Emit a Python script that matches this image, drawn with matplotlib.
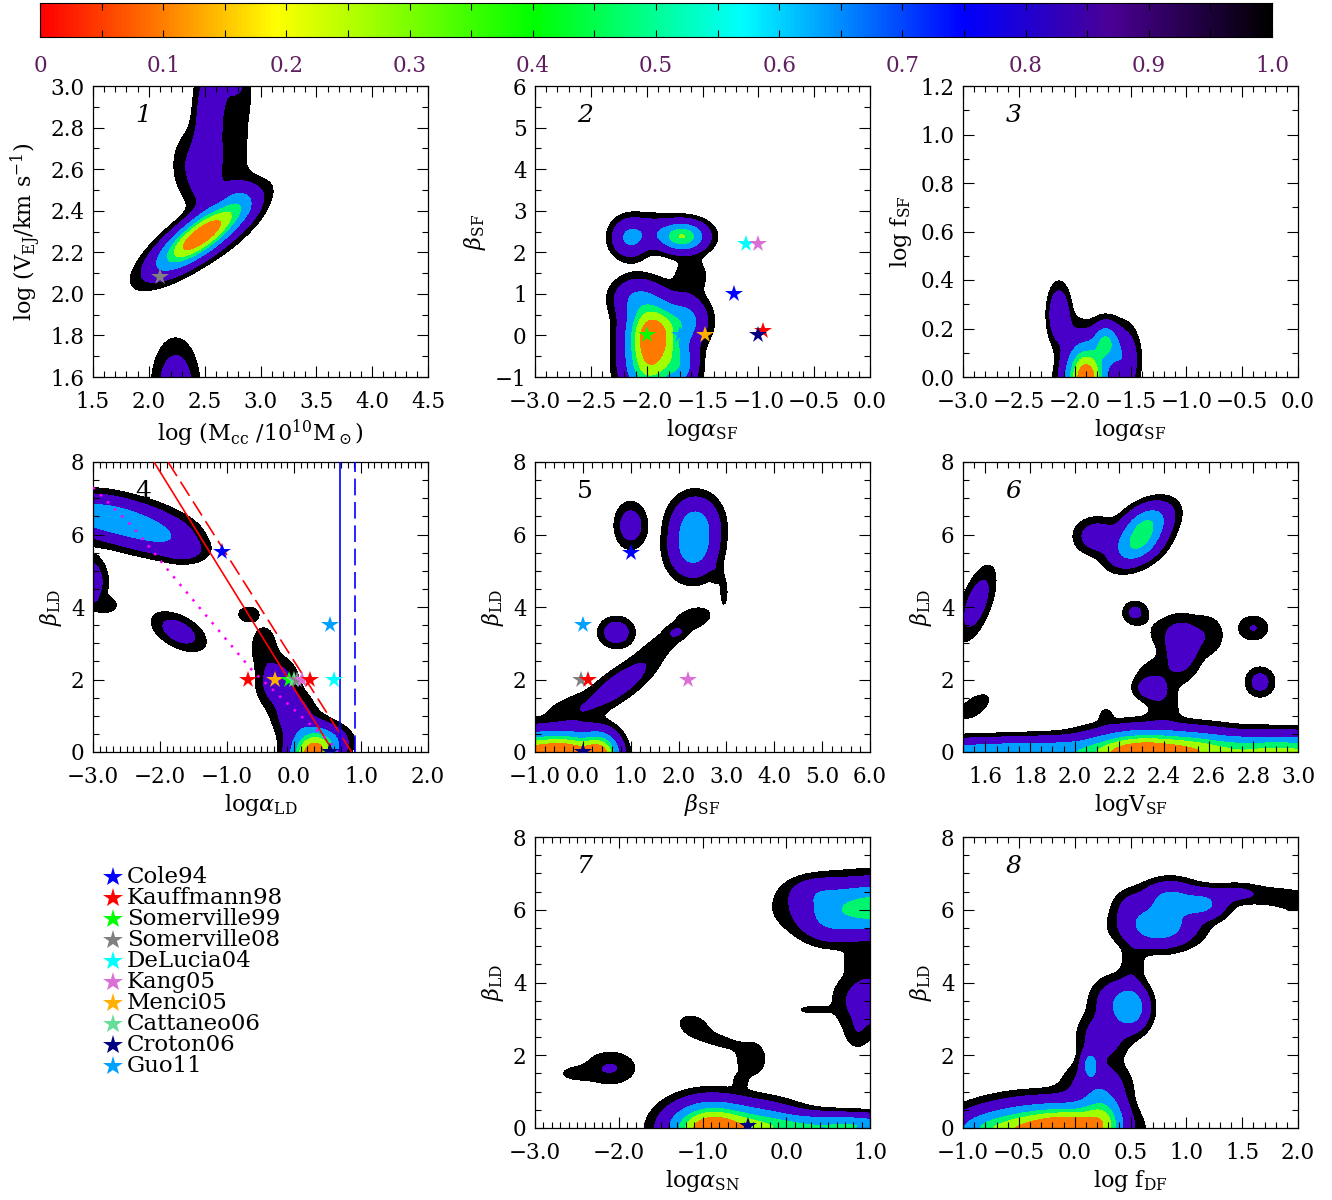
import numpy as np
import matplotlib
matplotlib.use("Agg")
import matplotlib.pyplot as plt
from matplotlib.colors import LinearSegmentedColormap
from matplotlib.ticker import MultipleLocator, FuncFormatter, FixedLocator

plt.rcParams['font.family'] = ['DejaVu Serif']
plt.rcParams['mathtext.fontset'] = 'dejavuserif'

# colour scale on top
cb_pos = [0.0, 0.1, 0.19, 0.4, 0.57, 0.75, 0.87, 1.0]
cb_cols = ['#ff0000', '#ff8000', '#ffff00', '#00ff00', '#00ffff', '#0000ff', '#4b0096', '#000000']
cb_ticks = [0.0, 0.1, 0.2, 0.3, 0.4, 0.5, 0.6, 0.7, 0.8, 0.9, 1.0]
cb_labels = ['0', '0.1', '0.2', '0.3', '0.4', '0.5', '0.6', '0.7', '0.8', '0.9', '1.0']

# contour bands (outer -> inner)
band_levels = [0.03, 0.08, 0.25, 0.45, 0.6, 0.8, 50]
band_colors = ['#000000', '#4800c8', '#00a0ff', '#00f56e', '#a0ff00', '#ff7800']

# models
model_names = ['Cole94', 'Kauffmann98', 'Somerville99', 'Somerville08', 'DeLucia04',
               'Kang05', 'Menci05', 'Cattaneo06', 'Croton06', 'Guo11']
model_colors = ['#0000ff', '#ff0000', '#00ff00', '#808080', '#00ffff',
                '#da70d6', '#ffb000', '#66dd99', '#000080', '#00a0ff']

# posterior blobs per panel: (x0, y0, sx, sy, rho, amp)
blobs1 = [(2.47, 2.28, 0.24, 0.10, 0.80, 1.0),
          (2.49, 2.60, 0.10, 0.13, 0.0, 0.15),
          (2.53, 2.86, 0.07, 0.13, 0.0, 0.14),
          (2.80, 2.45, 0.10, 0.06, 0.0, 0.12),
          (2.74, 2.72, 0.15, 0.28, 0.0, 0.045),
          (2.68, 3.00, 0.15, 0.10, 0.0, 0.05),
          (2.78, 3.02, 0.04, 0.03, 0.0, 0.10),
          (2.30, 2.62, 0.08, 0.10, 0.0, 0.04),
          (2.24, 1.55, 0.12, 0.13, 0.0, 0.16)]
blobs2 = [(-1.68, 2.38, 0.13, 0.22, 0.0, 0.6),
          (-2.15, 2.35, 0.10, 0.28, 0.0, 0.28),
          (-1.95, 2.50, 0.12, 0.25, 0.0, 0.12),
          (-1.60, 1.45, 0.10, 0.30, 0.0, 0.065),
          (-1.95, 0.00, 0.14, 0.50, 0.0, 1.0),
          (-1.98, -0.85, 0.14, 0.40, 0.0, 0.45),
          (-1.65, 0.35, 0.12, 0.35, 0.0, 0.3),
          (-2.10, 0.90, 0.13, 0.30, 0.0, 0.2),
          (-1.70, -0.70, 0.10, 0.40, 0.0, 0.3)]
blobs3 = [(-1.90, -0.01, 0.11, 0.09, 0.0, 1.0),
          (-1.72, 0.14, 0.07, 0.05, 0.0, 0.45),
          (-1.56, 0.07, 0.08, 0.08, 0.0, 0.22),
          (-2.14, 0.26, 0.06, 0.07, 0.0, 0.2),
          (-2.05, 0.19, 0.08, 0.05, 0.0, 0.04)]
blobs4 = [(-3.10, 6.62, 0.33, 0.33, 0.0, 0.18),
          (-2.80, 6.48, 0.33, 0.33, 0.0, 0.17),
          (-2.50, 6.32, 0.33, 0.33, 0.0, 0.17),
          (-2.20, 6.14, 0.33, 0.33, 0.0, 0.17),
          (-1.90, 5.90, 0.30, 0.30, 0.0, 0.15),
          (-1.62, 5.55, 0.22, 0.22, 0.0, 0.1),
          (-3.08, 4.70, 0.16, 0.40, 0.0, 0.2),
          (-2.80, 4.05, 0.12, 0.15, 0.0, 0.06),
          (-1.72, 3.32, 0.24, 0.32, -0.5, 0.13),
          (0.28, -0.15, 0.20, 0.45, 0.0, 1.0),
          (0.50, 0.30, 0.20, 0.25, 0.0, 0.2),
          (0.00, 1.00, 0.18, 0.40, 0.0, 0.15),
          (-0.25, 1.90, 0.18, 0.42, 0.0, 0.145),
          (-0.45, 2.90, 0.13, 0.40, 0.0, 0.07),
          (-0.68, 3.80, 0.11, 0.15, 0.0, 0.07)]
blobs5 = [(1.00, 6.25, 0.20, 0.38, 0.0, 0.14),
          (2.35, 6.30, 0.30, 0.45, 0.0, 0.3),
          (2.30, 5.55, 0.30, 0.45, 0.0, 0.3),
          (2.95, 4.40, 0.06, 0.30, 0.0, 0.05),
          (2.80, 4.90, 0.08, 0.20, 0.0, 0.04),
          (0.70, 3.30, 0.22, 0.25, 0.0, 0.15),
          (2.32, 3.70, 0.25, 0.20, 0.3, 0.07),
          (0.75, 1.85, 0.50, 0.50, 0.8, 0.14),
          (1.70, 3.05, 0.36, 0.36, 0.75, 0.05),
          (1.95, 3.30, 0.14, 0.12, 0.0, 0.05),
          (-0.45, 1.15, 0.35, 0.25, 0.0, 0.03),
          (-0.10, 1.30, 0.25, 0.30, 0.0, 0.025),
          (-1.00, -0.10, 0.40, 0.38, 0.0, 0.9),
          (-0.30, -0.10, 0.35, 0.38, 0.0, 0.9),
          (0.35, -0.10, 0.25, 0.38, 0.0, 0.9)]
blobs6 = [(2.28, 5.70, 0.07, 0.35, 0.4, 0.4),
          (2.32, 6.30, 0.07, 0.35, 0.4, 0.4),
          (2.10, 5.95, 0.06, 0.30, 0.0, 0.15),
          (1.56, 4.10, 0.05, 0.60, 0.6, 0.14),
          (1.55, 1.25, 0.05, 0.25, 0.6, 0.07),
          (2.27, 3.85, 0.035, 0.20, 0.0, 0.1),
          (2.48, 2.85, 0.05, 0.45, 0.0, 0.14),
          (2.34, 1.75, 0.045, 0.20, 0.0, 0.14),
          (2.40, 1.30, 0.05, 0.35, 0.0, 0.06),
          (2.45, 3.30, 0.10, 0.35, 0.0, 0.05),
          (2.38, 2.20, 0.08, 0.30, 0.0, 0.05),
          (2.60, 3.20, 0.05, 0.40, 0.0, 0.05),
          (2.80, 3.42, 0.045, 0.23, 0.0, 0.083),
          (2.83, 1.93, 0.04, 0.25, 0.0, 0.12),
          (2.14, 1.00, 0.02, 0.15, 0.0, 0.05),
          (1.50, 0.00, 0.25, 0.22, 0.0, 0.3),
          (1.90, 0.00, 0.20, 0.25, 0.0, 0.3),
          (2.30, -0.05, 0.15, 0.38, 0.0, 1.0),
          (2.55, 0.00, 0.12, 0.35, 0.0, 0.45),
          (2.80, 0.00, 0.15, 0.30, 0.0, 0.45),
          (3.05, 0.00, 0.15, 0.30, 0.0, 0.45)]
blobs7 = [(-2.10, 1.65, 0.20, 0.30, 0.0, 0.085),
          (-2.50, 1.50, 0.15, 0.14, 0.0, 0.05),
          (-1.10, 2.80, 0.13, 0.22, -0.3, 0.065),
          (-0.80, 2.40, 0.18, 0.18, -0.6, 0.05),
          (-0.42, 1.90, 0.13, 0.35, 0.0, 0.065),
          (-0.55, 1.30, 0.06, 0.15, 0.0, 0.04),
          (1.05, 6.05, 0.50, 0.45, 0.0, 0.55),
          (0.50, 5.60, 0.20, 0.35, 0.0, 0.1),
          (0.35, 6.50, 0.20, 0.25, 0.0, 0.1),
          (1.00, 3.50, 0.25, 0.50, 0.0, 0.15),
          (0.90, 4.60, 0.15, 0.25, 0.0, 0.05),
          (0.30, 3.25, 0.15, 0.10, 0.0, 0.04),
          (0.85, 2.60, 0.10, 0.30, 0.0, 0.05),
          (-0.90, -0.05, 0.30, 0.45, 0.0, 1.0),
          (-0.30, 0.00, 0.30, 0.38, 0.0, 0.45),
          (0.30, 0.05, 0.35, 0.22, 0.0, 0.35),
          (0.90, 0.05, 0.30, 0.20, 0.0, 0.35)]
blobs8 = [(0.75, 5.55, 0.20, 0.35, 0.0, 0.38),
          (0.85, 6.30, 0.15, 0.30, 0.0, 0.28),
          (1.15, 6.15, 0.13, 0.25, 0.0, 0.27),
          (1.45, 6.45, 0.15, 0.18, 0.0, 0.1),
          (1.80, 6.35, 0.15, 0.20, 0.0, 0.05),
          (2.00, 6.20, 0.10, 0.20, 0.0, 0.05),
          (0.50, 6.10, 0.10, 0.30, 0.0, 0.08),
          (0.52, 4.50, 0.07, 0.40, 0.0, 0.06),
          (0.50, 3.30, 0.10, 0.38, 0.0, 0.38),
          (0.35, 3.50, 0.13, 0.40, 0.0, 0.13),
          (0.14, 1.75, 0.05, 0.25, 0.0, 0.27),
          (0.25, 2.50, 0.13, 0.40, 0.0, 0.15),
          (0.20, 1.20, 0.17, 0.40, 0.0, 0.15),
          (-0.30, -0.10, 0.35, 0.45, 0.0, 0.9),
          (0.00, -0.10, 0.20, 0.40, 0.0, 0.5),
          (0.25, 0.30, 0.12, 0.45, 0.0, 0.4),
          (-0.80, -0.05, 0.20, 0.30, 0.0, 0.2)]

# model stars per panel: (model index, x, y)
stars1 = [(3, 2.10, 2.08)]
stars2 = [(4, -1.11, 2.21), (5, -1.00, 2.20), (0, -1.22, 1.00), (1, -0.96, 0.10),
          (8, -1.00, 0.00), (6, -1.48, 0.00), (2, -2.00, 0.00), (9, -1.70, 0.00)]
stars4 = [(0, -1.08, 5.51), (9, 0.53, 3.51), (4, 0.59, 2.00), (1, -0.69, 2.00),
          (6, -0.28, 2.00), (2, -0.08, 2.00), (7, 0.00, 2.00), (3, 0.04, 2.00),
          (5, 0.12, 2.00), (1, 0.24, 2.00), (8, 0.54, 0.00)]
stars5 = [(0, 1.00, 5.50), (9, 0.00, 3.50), (3, -0.03, 2.00), (1, 0.11, 1.98),
          (5, 2.20, 2.00), (8, 0.00, 0.00)]
stars7 = [(8, -0.46, 0.05)]

# constraint lines in panel 4
red_solid_x, red_solid_y = [-2.09, 0.59], [8.0, 0.0]
red_dash_x, red_dash_y = [-1.88, 0.86], [8.0, 0.0]
blue_solid_x = 0.69
blue_dash_x = 0.91
magenta_x = [-3.0, -2.4, -1.85, -0.6, 0.1, 0.55, 0.65]
magenta_y = [7.3, 6.2, 4.95, 2.2, 1.0, 0.25, 0.0]

W, H = 1332, 1200
fig = plt.figure(figsize=(W / 100, H / 100), dpi=100)


def px_rect(x0, y0, x1, y1):
    return [x0 / W, 1 - y1 / H, (x1 - x0) / W, (y1 - y0) / H]


def fmt(f):
    def _f(v, pos):
        if abs(v) < 1e-9:
            v = 0.0
        return (f % v).replace('-', '\u2212')
    return FuncFormatter(_f)


def field(blobs, X, Y):
    Z = np.zeros_like(X)
    for x0, y0, sx, sy, rho, a in blobs:
        u = (X - x0) / sx
        v = (Y - y0) / sy
        q = (u * u - 2 * rho * u * v + v * v) / (1 - rho * rho)
        Z += a * np.exp(-0.5 * q)
    return Z


def panel(rect, blobs, xlim, ylim, xmaj, xmin, ymaj, ymin, xfmt, yfmt,
          xlabel, ylabel, num, italic=True, stars=()):
    ax = fig.add_axes(px_rect(*rect))
    xs = np.linspace(xlim[0], xlim[1], 400)
    ys = np.linspace(ylim[0], ylim[1], 400)
    X, Y = np.meshgrid(xs, ys)
    Z = field(blobs, X, Y)
    ax.contourf(X, Y, Z, levels=band_levels, colors=band_colors, zorder=1)
    for idx, sx, sy in stars:
        ax.plot(sx, sy, marker='*', ms=13, mew=0, color=model_colors[idx], zorder=5)
    ax.set_xlim(xlim)
    ax.set_ylim(ylim)
    ax.xaxis.set_major_locator(MultipleLocator(xmaj))
    ax.xaxis.set_minor_locator(MultipleLocator(xmin))
    ax.yaxis.set_major_locator(MultipleLocator(ymaj))
    ax.yaxis.set_minor_locator(MultipleLocator(ymin))
    ax.xaxis.set_major_formatter(fmt(xfmt))
    ax.yaxis.set_major_formatter(fmt(yfmt))
    ax.tick_params(which='both', direction='in', top=True, right=True, labelsize=15.5)
    ax.tick_params(which='major', length=8, width=0.8)
    ax.tick_params(which='minor', length=4, width=0.8)
    ax.tick_params(axis='x', pad=10)
    ax.tick_params(axis='y', pad=6)
    for s in ax.spines.values():
        s.set_linewidth(0.9)
    ax.set_xlabel(xlabel, fontsize=16, labelpad=3)
    ax.set_ylabel(ylabel, fontsize=16, labelpad=5)
    ax.text(0.15, 0.9, num, transform=ax.transAxes, fontsize=18,
            style='italic' if italic else 'normal', ha='center', va='center', zorder=6)
    return ax


cols = [93, 535, 963]
rows = [(86, 377), (462, 752), (837, 1128)]
aw = 335

lab_asf = r'log$\alpha_{\rm SF}$'
lab_bld = r'$\beta_{\rm LD}$'

panel((cols[0], rows[0][0], cols[0] + aw, rows[0][1]), blobs1, (1.5, 4.5), (1.6, 3.0),
      0.5, 0.1, 0.2, 0.1, '%.1f', '%.1f',
      r'log (M$_{\rm cc}$ /10$^{10}$M$_\odot$)', r'log (V$_{\rm EJ}$/km s$^{-1}$)', '1',
      stars=stars1)
panel((cols[1], rows[0][0], cols[1] + aw, rows[0][1]), blobs2, (-3.0, 0.0), (-1.0, 6.0),
      0.5, 0.1, 1, 0.5, '%.1f', '%d', lab_asf, r'$\beta_{\rm SF}$', '2', stars=stars2)
panel((cols[2], rows[0][0], cols[2] + aw, rows[0][1]), blobs3, (-3.0, 0.0), (0.0, 1.2),
      0.5, 0.1, 0.2, 0.1, '%.1f', '%.1f', lab_asf, r'log f$_{\rm SF}$', '3')

ax4 = panel((cols[0], rows[1][0], cols[0] + aw, rows[1][1]), blobs4, (-3.0, 2.0), (0.0, 8.0),
            1.0, 0.1, 2, 0.5, '%.1f', '%d', r'log$\alpha_{\rm LD}$', lab_bld, '4',
            italic=False, stars=stars4)
ax4.plot(red_solid_x, red_solid_y, color='red', lw=1.2, zorder=3)
ax4.plot(red_dash_x, red_dash_y, color='red', lw=1.2, ls=(0, (10, 4)), zorder=3)
ax4.axvline(blue_solid_x, color='blue', lw=1.2, zorder=3)
ax4.axvline(blue_dash_x, color='blue', lw=1.2, ls=(0, (10, 4)), zorder=3)
ax4.plot(magenta_x, magenta_y, color='magenta', lw=1.8, ls=(0, (1, 3)), zorder=3)

panel((cols[1], rows[1][0], cols[1] + aw, rows[1][1]), blobs5, (-1.0, 6.0), (0.0, 8.0),
      1.0, 0.2, 2, 0.5, '%.1f', '%d', r'$\beta_{\rm SF}$', lab_bld, '5',
      italic=False, stars=stars5)
panel((cols[2], rows[1][0], cols[2] + aw, rows[1][1]), blobs6, (1.5, 3.0), (0.0, 8.0),
      0.2, 0.05, 2, 0.5, '%.1f', '%d', r'logV$_{\rm SF}$', lab_bld, '6')
panel((cols[1], rows[2][0], cols[1] + aw, rows[2][1]), blobs7, (-3.0, 1.0), (0.0, 8.0),
      1.0, 0.1, 2, 0.5, '%.1f', '%d', r'log$\alpha_{\rm SN}$', lab_bld, '7', stars=stars7)
panel((cols[2], rows[2][0], cols[2] + aw, rows[2][1]), blobs8, (-1.0, 2.0), (0.0, 8.0),
      0.5, 0.1, 2, 0.5, '%.1f', '%d', r'log f$_{\rm DF}$', lab_bld, '8')

# colour bar
cmap = LinearSegmentedColormap.from_list('idl', list(zip(cb_pos, cb_cols)))
cax = fig.add_axes(px_rect(40, 3, 1272, 37))
cax.imshow(np.linspace(0, 1, 512)[None, :], cmap=cmap, aspect='auto', extent=[0, 1, 0, 1])
cax.set_xlim(0, 1)
cax.set_yticks([])
cax.xaxis.set_major_locator(FixedLocator(cb_ticks))
cax.set_xticklabels(cb_labels)
cax.xaxis.set_minor_locator(MultipleLocator(0.05))
cax.tick_params(which='both', direction='in', top=True, bottom=True, length=5,
                width=0.8, labelsize=15.5, labelcolor='#602060', pad=13)

# legend
lax = fig.add_axes(px_rect(95, 865, 330, 1080))
lax.set_axis_off()
lax.set_xlim(0, 1)
lax.set_ylim(0, 1)
for i, (name, c) in enumerate(zip(model_names, model_colors)):
    yy = 0.945 - i * 0.098
    lax.plot(0.075, yy, marker='*', ms=15, mew=0, color=c)
    lax.text(0.135, yy, name, fontsize=16.5, va='center', ha='left')

fig.savefig('out.png', dpi=100)
